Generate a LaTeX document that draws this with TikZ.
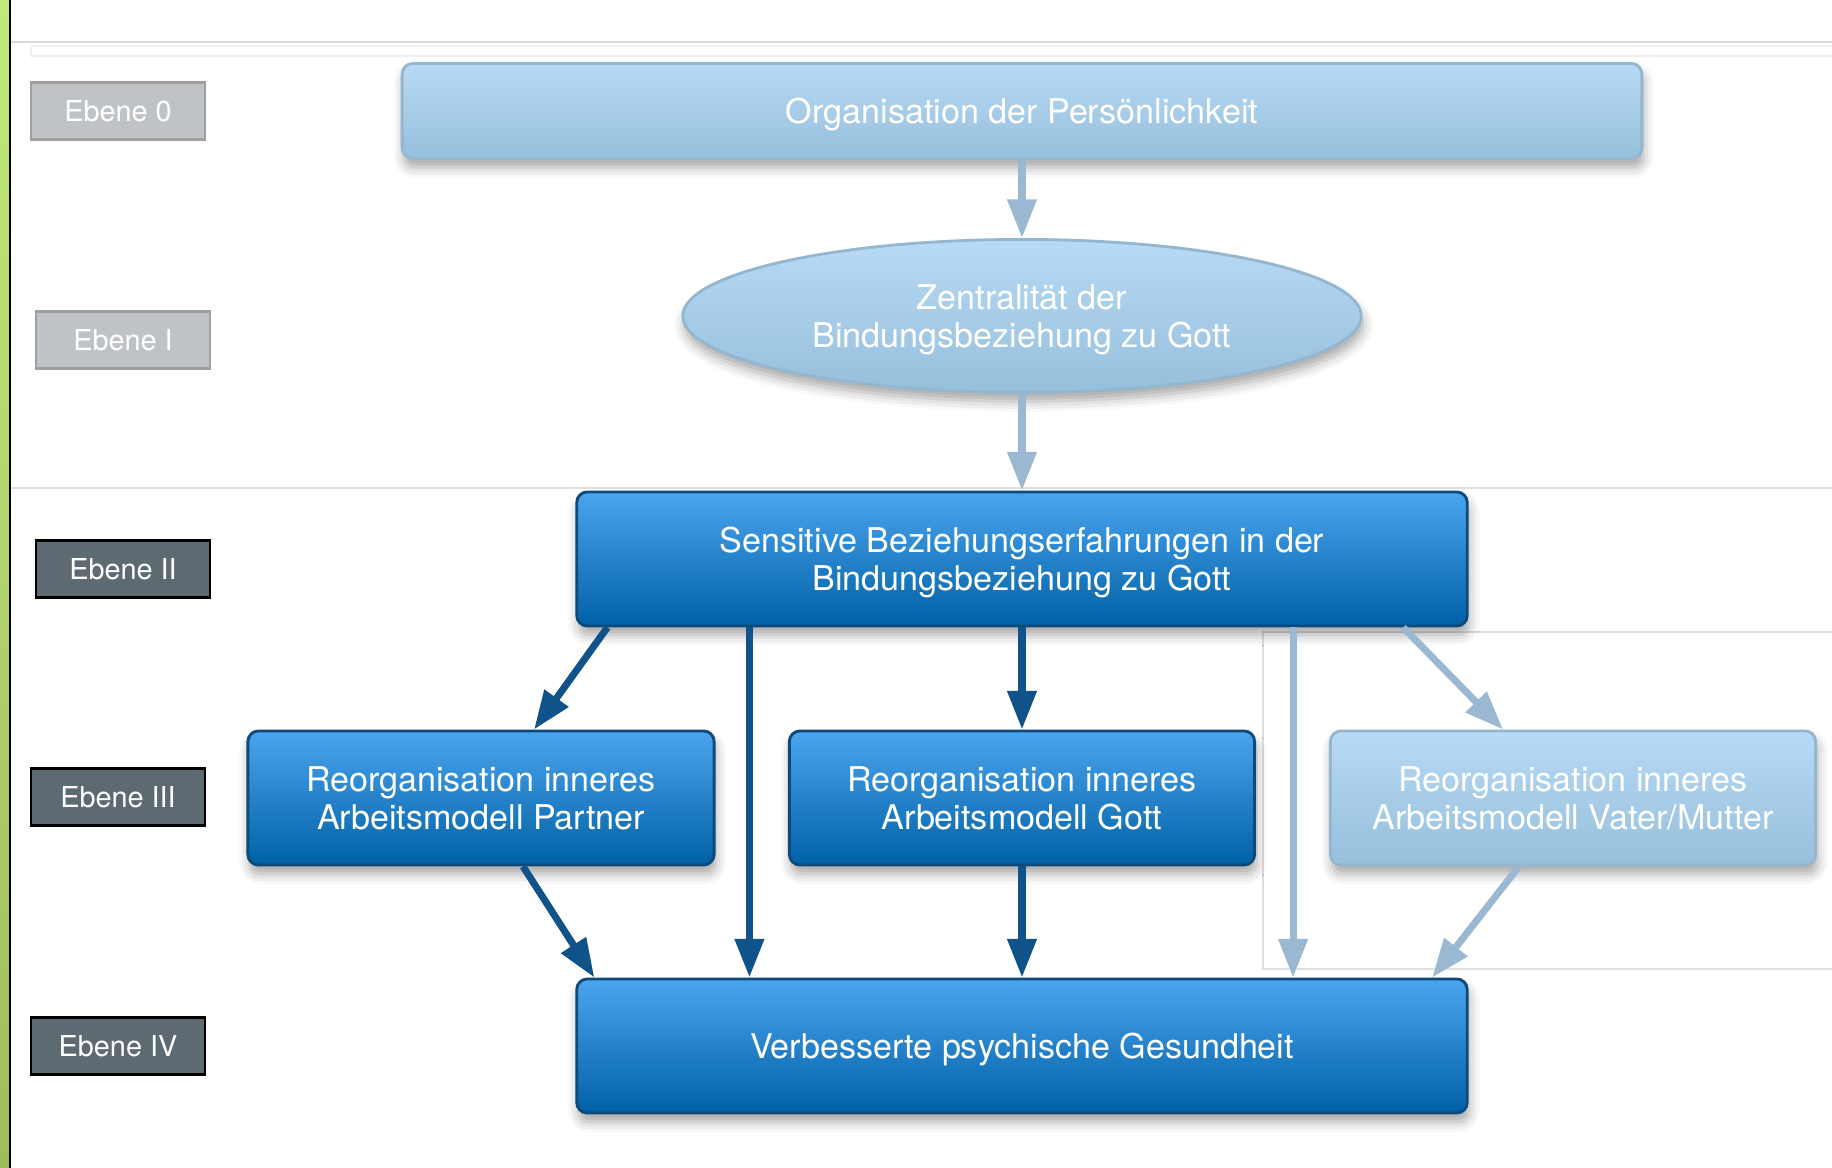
\documentclass[tikz,border=0pt]{standalone}
\usepackage{fontspec}
\setmainfont{TeX Gyre Heros}
\usepackage{xcolor}
\usetikzlibrary{positioning,arrows.meta,shapes.geometric,shadows.blur}

\definecolor{hellOben}{HTML}{B8DAF6}
\definecolor{hellUnten}{HTML}{96BFDB}
\definecolor{hellRand}{HTML}{94B6CF}
\definecolor{dunkelOben}{HTML}{4BA5EE}
\definecolor{dunkelUnten}{HTML}{0060A6}
\definecolor{dunkelRand}{HTML}{0D4A7A}
\definecolor{pfeilDunkel}{HTML}{10538B}
\definecolor{pfeilHell}{HTML}{9AB8D1}
\definecolor{ebeneHell}{HTML}{C0C3C6}
\definecolor{ebeneDunkel}{HTML}{5E6A72}
\definecolor{gruenOben}{HTML}{C2E87A}
\definecolor{gruenUnten}{HTML}{9FBC5F}

\begin{document}
\begin{tikzpicture}[x=0.01cm, y=-0.01cm,
    schatten/.style={blur shadow={shadow xshift=0.5pt, shadow yshift=-2.5pt, shadow blur radius=3pt, shadow opacity=35}},
    hellbox/.style={draw=hellRand, line width=0.8pt, rounded corners=3pt, top color=hellOben, bottom color=hellUnten, text=white, align=center, inner sep=0pt, text depth=0pt, font=\fontsize{9.7}{10.8}\selectfont, schatten},
    dunkelbox/.style={draw=dunkelRand, line width=0.8pt, rounded corners=3pt, top color=dunkelOben, bottom color=dunkelUnten, text=white, align=center, inner sep=0pt, text depth=0pt, font=\fontsize{9.7}{10.8}\selectfont, schatten},
    ebene/.style={line width=0.8pt, minimum width=1.74cm, minimum height=0.57cm, inner sep=0pt, text=white, font=\fontsize{8.2}{10}\selectfont},
    pfeil/.style={line width=2pt, -{Triangle[length=11pt,width=8pt]}}]
        \useasboundingbox (0,0) rectangle (1832,1168);
        \shade[top color=gruenOben, bottom color=gruenUnten] (0,0) rectangle (9,1168);
        \draw[line width=0.8pt] (10,0) -- (10,1168);
        \draw[gray!30] (11,42) -- (1832,42);
        \draw[gray!12] (31,46) rectangle (1840,56);
        \draw[gray!25] (11,488) -- (1832,488);
        \draw[gray!25] (1263,632) rectangle (1840,969);

        \node[ebene, fill=ebeneHell, draw=gray!75] (e0) at (118,111) {Ebene 0};
        \node[ebene, fill=ebeneHell, draw=gray!75] (e1) at (123,340) {Ebene I};
        \node[ebene, fill=ebeneDunkel, draw=black] (e2) at (123,569) {Ebene II};
        \node[ebene, fill=ebeneDunkel, draw=black] (e3) at (118,797) {Ebene III};
        \node[ebene, fill=ebeneDunkel, draw=black] (e4) at (118,1046) {Ebene IV};

        \node[hellbox, minimum width=12.39cm, minimum height=0.95cm] (org) at (1022,111) {Organisation der Persönlichkeit};
        \node[hellbox, ellipse, rounded corners=0pt, minimum width=6.78cm, minimum height=1.53cm] (zentral) at (1022,316) {Zentralität der\\Bindungsbeziehung zu Gott};
        \node[dunkelbox, minimum width=8.9cm, minimum height=1.34cm] (sensitiv) at (1022,559) {Sensitive Beziehungserfahrungen in der\\Bindungsbeziehung zu Gott};
        \node[dunkelbox, minimum width=4.66cm, minimum height=1.34cm] (partner) at (481,798) {Reorganisation inneres\\Arbeitsmodell Partner};
        \node[dunkelbox, minimum width=4.65cm, minimum height=1.34cm] (gott) at (1022,798) {Reorganisation inneres\\Arbeitsmodell Gott};
        \node[hellbox, minimum width=4.85cm, minimum height=1.34cm] (eltern) at (1573,798) {Reorganisation inneres\\Arbeitsmodell Vater/Mutter};
        \node[dunkelbox, minimum width=8.9cm, minimum height=1.34cm] (gesund) at (1022,1046) {Verbesserte psychische Gesundheit};

        \draw[pfeil, pfeilHell] (org) -- (zentral);
        \draw[pfeil, pfeilHell] (zentral) -- (sensitiv);
        \draw[pfeil, pfeilDunkel] ([xshift=0.32cm]sensitiv.south west) -- ([xshift=0.53cm]partner.north);
        \draw[pfeil, pfeilDunkel] ([xshift=1.74cm]sensitiv.south west) -- ([xshift=1.74cm]gesund.north west);
        \draw[pfeil, pfeilDunkel] (sensitiv) -- (gott);
        \draw[pfeil, pfeilHell] ([xshift=-1.755cm]sensitiv.south east) -- ([xshift=-1.755cm]gesund.north east);
        \draw[pfeil, pfeilHell] ([xshift=-0.655cm]sensitiv.south east) -- ([xshift=1.74cm]eltern.north west);
        \draw[pfeil, pfeilDunkel] ([xshift=0.42cm]partner.south) -- ([xshift=0.19cm]gesund.north west);
        \draw[pfeil, pfeilDunkel] (gott) -- (gesund);
        \draw[pfeil, pfeilHell] ([xshift=-0.54cm]eltern.south) -- ([xshift=-0.365cm]gesund.north east);
    \end{tikzpicture}
\end{document}
